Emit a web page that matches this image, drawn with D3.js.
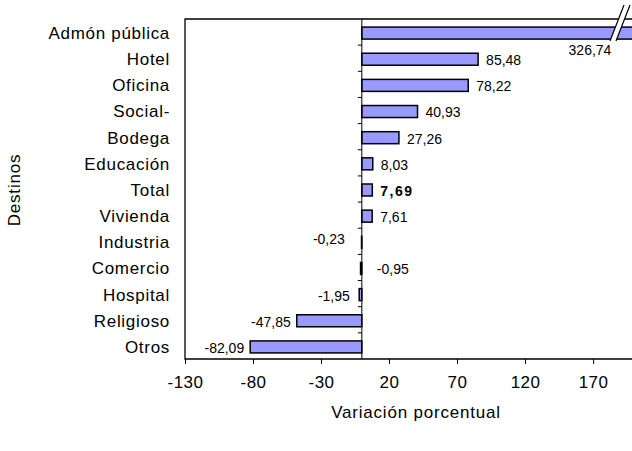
<!DOCTYPE html>
<html>
<head>
<meta charset="utf-8">
<script src="https://cdn.jsdelivr.net/npm/d3@7"></script>
<style>
  html, body { margin: 0; padding: 0; background: #fff; }
  svg { display: block; font-family: "Liberation Sans", Arial, sans-serif; }
</style>
</head>
<body>
<svg id="chart" width="632" height="451"></svg>
<script>
// ---- data ----
const categories = ["Admón pública", "Hotel", "Oficina", "Social-", "Bodega", "Educación",
                    "Total", "Vivienda", "Industria", "Comercio", "Hospital", "Religioso", "Otros"];
const values = [326.74, 85.48, 78.22, 40.93, 27.26, 8.03, 7.69, 7.61, -0.23, -0.95, -1.95, -47.85, -82.09];
const valueLabels = ["326,74", "85,48", "78,22", "40,93", "27,26", "8,03", "7,69", "7,61",
                     "-0,23", "-0,95", "-1,95", "-47,85", "-82,09"];
const xTicks = [-130, -80, -30, 20, 70, 120, 170];
const xTitle = "Variación porcentual";
const yTitle = "Destinos";

(function () {
// ---- layout ----
const svg = d3.select("#chart");
const pL = 185, pR = 632, pT = 19, pB = 359;
const x = d3.scaleLinear().domain([-130, 198.6]).range([pL, pR]);
const y = d3.scaleBand().domain(categories).range([pT, pB]).paddingInner(0).paddingOuter(0);
const barH = 12;
const x0 = x(0);

// frame (left, top, bottom)
svg.append("path")
  .attr("d", `M${pR + 1},${pT}H${pL}V${pB}H${pR + 1}`)
  .attr("fill", "none").attr("stroke", "#000").attr("stroke-width", 1.3);

// bars
const data = categories.map((c, i) => ({ c, v: values[i], lab: valueLabels[i], i }));
svg.append("g").selectAll("rect").data(data).join("rect")
  .attr("x", d => Math.min(x0, x(Math.min(d.v, 200.5))))
  .attr("y", d => y(d.c) + y.bandwidth() / 2 - barH / 2 + 1)
  .attr("width", d => Math.max(0.3, Math.abs(x(Math.min(d.v, 200.5)) - x0)))
  .attr("height", barH)
  .attr("fill", "#9999FF")
  .attr("stroke", "#000")
  .attr("stroke-width", 1.5);

// zero axis with category ticks
svg.append("line").attr("x1", x0).attr("x2", x0).attr("y1", pT).attr("y2", pB)
  .attr("stroke", "#000").attr("stroke-width", 1);
svg.append("g").selectAll("line").data(categories.slice(1)).join("line")
  .attr("x1", x0 - 4).attr("x2", x0)
  .attr("y1", d => y(d)).attr("y2", d => y(d))
  .attr("stroke", "#000").attr("stroke-width", 1);

// category labels
svg.append("g").selectAll("text").data(categories).join("text")
  .attr("x", 170)
  .attr("y", d => y(d) + y.bandwidth() / 2 + 1)
  .attr("dy", "0.35em")
  .attr("text-anchor", "end")
  .attr("font-size", 17)
  .attr("letter-spacing", "0.7px")
  .text(d => d);

// x axis
const xAxis = d3.axisBottom(x).tickValues(xTicks).tickSize(5).tickPadding(12).tickFormat(d => String(d));
const gx = svg.append("g").attr("transform", `translate(0,${pB})`).call(xAxis);
gx.select(".domain").remove();
gx.selectAll(".tick line").attr("stroke", "#000").attr("stroke-width", 1);
gx.selectAll(".tick text").attr("font-size", 17).attr("letter-spacing", "0.5px")
  .attr("font-family", "Liberation Sans, Arial, sans-serif").attr("fill", "#000");

// value labels
const lbl = svg.append("g");
data.forEach(d => {
  const cy = y(d.c) + y.bandwidth() / 2 + 2;
  let tx, anchor, ty = cy;
  if (d.i === 0) { tx = 590; anchor = "middle"; ty = y(d.c) + y.bandwidth() + 5; }
  else if (d.c === "Comercio") { tx = x0 + 15; anchor = "start"; }
  else if (d.c === "Industria") { tx = x0 - 17; anchor = "end"; ty = cy - 4; }
  else if (d.v >= 0) { tx = x(d.v) + 8; anchor = "start"; }
  else { tx = Math.min(x(d.v), x0 - 6) - 6; anchor = "end"; }
  const t = lbl.append("text")
    .attr("x", tx).attr("y", ty).attr("dy", "0.35em")
    .attr("text-anchor", anchor)
    .attr("font-size", 14)
    .text(d.lab);
  if (d.c === "Total") t.attr("font-weight", "bold").attr("letter-spacing", "1.5px");
});

// axis break symbol on the truncated bar
const bTop = 5, bBot = 41;
svg.append("polygon")
  .attr("points", `610,${bBot} 624,${bTop} 630,${bTop} 616,${bBot}`)
  .attr("fill", "#fff");
svg.append("line").attr("x1", 610).attr("y1", bBot).attr("x2", 624).attr("y2", bTop).attr("stroke", "#000").attr("stroke-width", 1.2);
svg.append("line").attr("x1", 616).attr("y1", bBot).attr("x2", 630).attr("y2", bTop).attr("stroke", "#000").attr("stroke-width", 1.2);

// titles
svg.append("text").attr("x", 416).attr("y", 418).attr("text-anchor", "middle")
  .attr("font-size", 17).attr("letter-spacing", "0.8px").text(xTitle);
svg.append("text").attr("transform", "translate(20,190) rotate(-90)").attr("text-anchor", "middle")
  .attr("font-size", 17).attr("letter-spacing", "0.8px").text(yTitle);
})();
</script>
</body>
</html>
